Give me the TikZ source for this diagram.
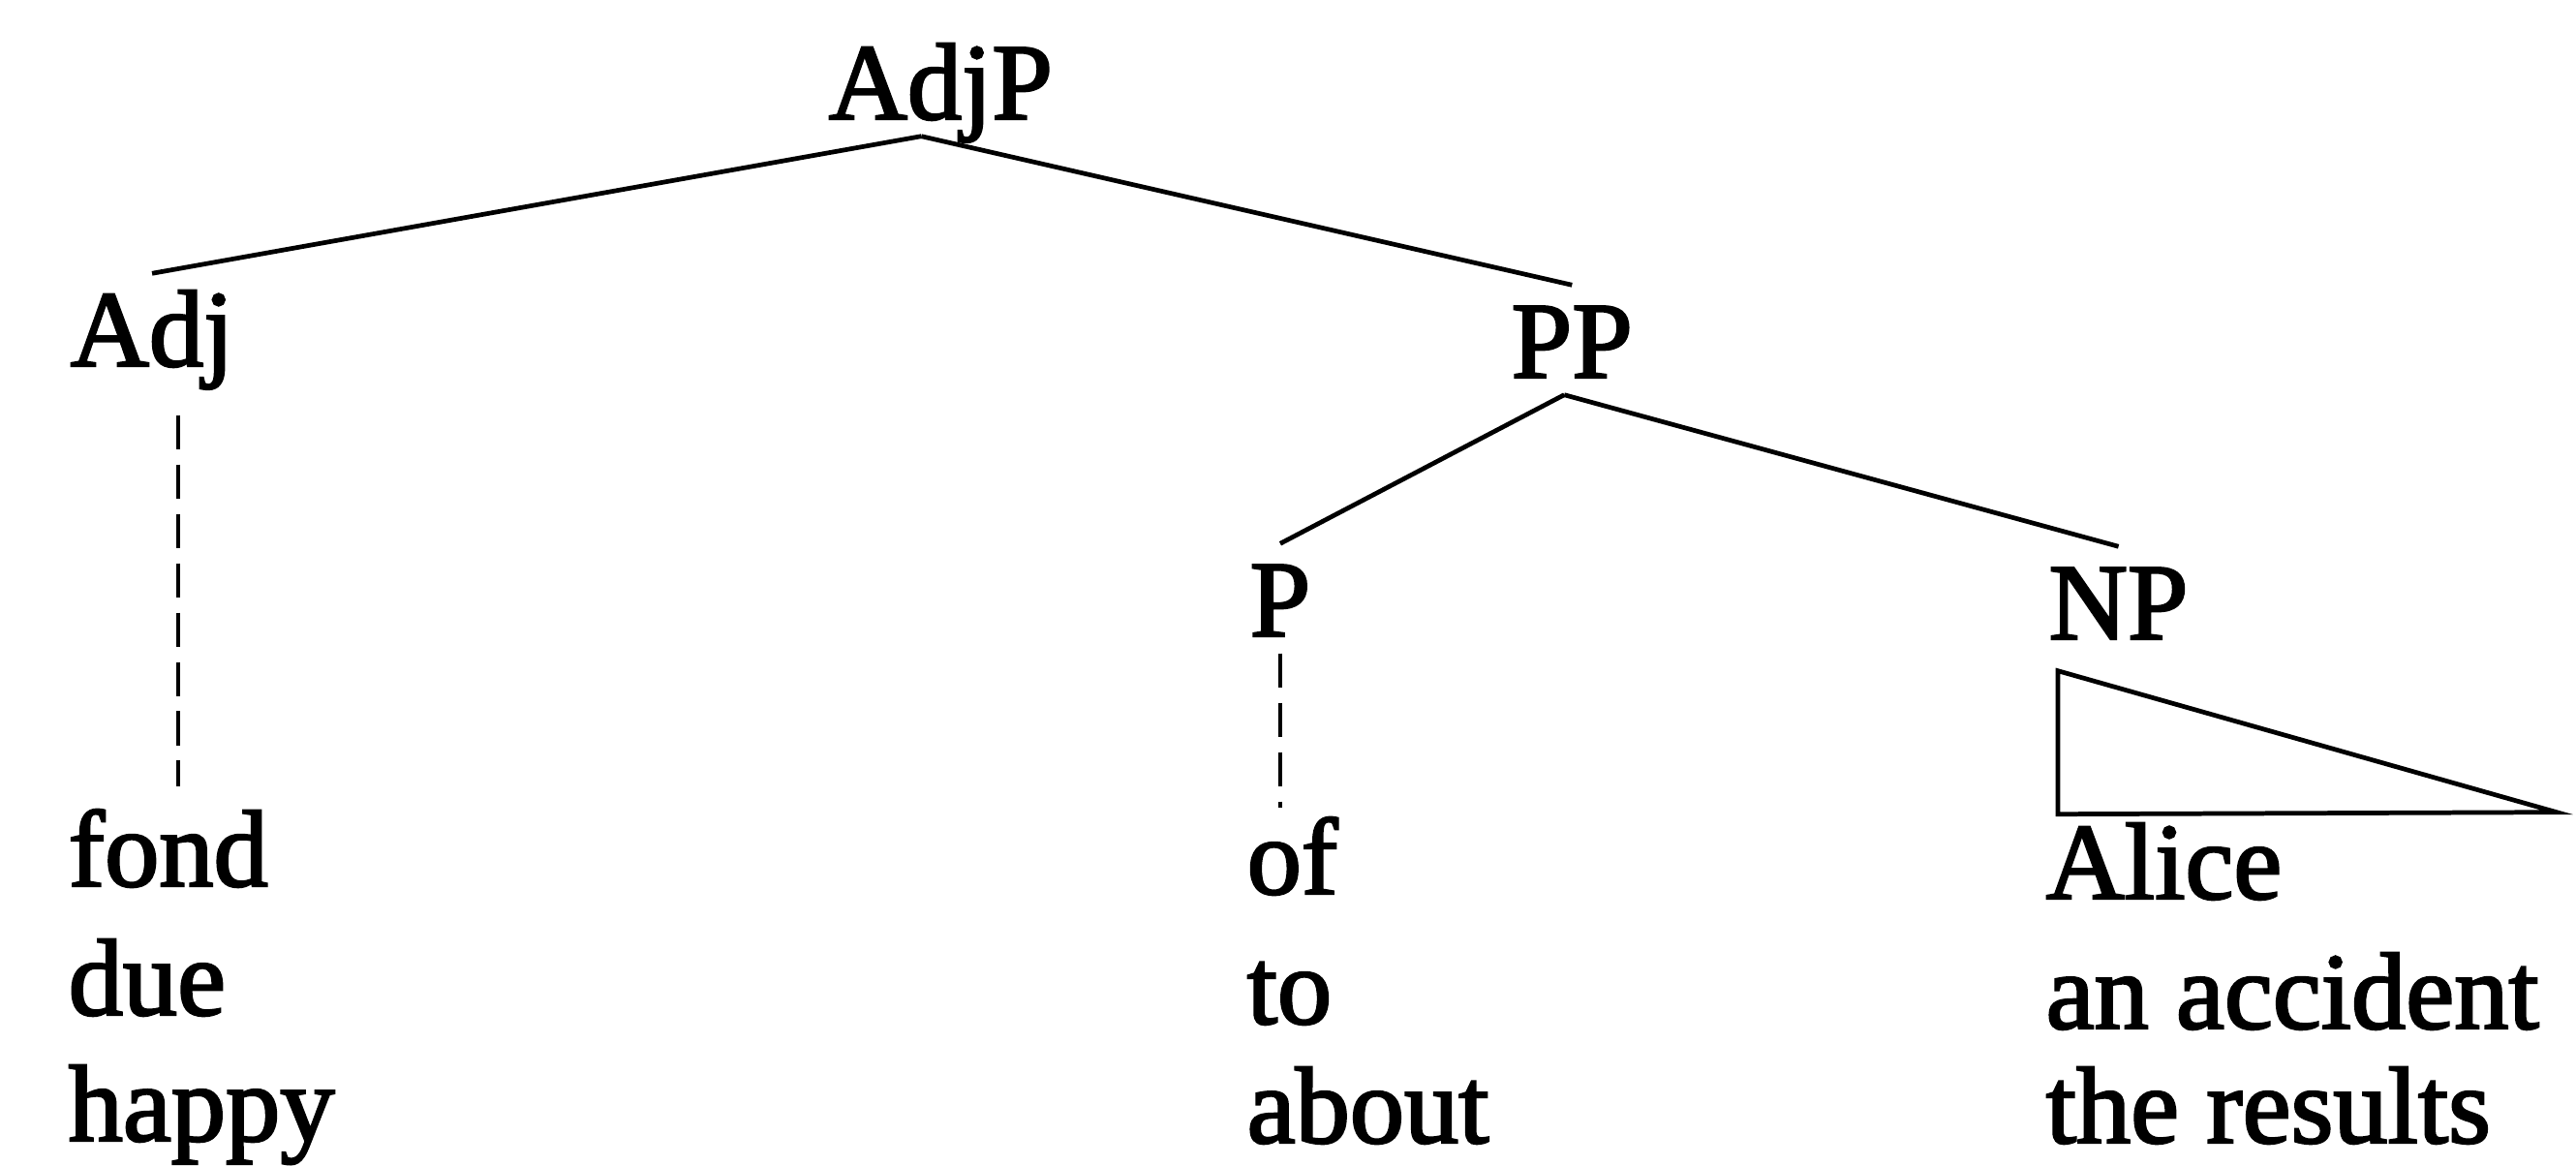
\documentclass[tikz,border=0pt]{standalone}
\usepackage{fontspec}
\setmainfont{Liberation Serif}[BoldFont=Liberation Serif,BoldFeatures={FakeBold=2.2}]
\usepackage{tikz}
\newcommand{\drawbranch}{\draw[line width=1.35pt]}
\newcommand{\drawdashed}{\draw[line width=1.05pt,dash pattern=on 10pt off 4.5pt]}
\begin{document}
\begin{tikzpicture}[cat/.style={anchor=base west,inner xsep=0pt,inner ysep=0.17cm,text height=0.78cm,text depth=0pt,font=\fontsize{32}{38}\selectfont\bfseries},
    word/.style={anchor=base west,inner sep=0pt,font=\fontsize{32}{38}\selectfont\bfseries}]
\useasboundingbox (0,0) rectangle (26.6,-12.04);
\node[cat] (adjp) at (8.55,-1.23) {AdjP};
\node[cat] (adj) at (0.72,-3.78) {Adj};
\node[cat] (pp) at (15.60,-3.90) {PP};
\node[cat] (p) at (12.90,-6.57) {P};
\node[cat] (np) at (21.15,-6.60) {NP};
\node[word] (fond) at (0.70,-9.15) {fond};
\node[word] (due) at (0.70,-10.48) {due};
\node[word] (happy) at (0.70,-11.78) {happy};
\node[word] (of) at (12.87,-9.23) {of};
\node[word] (to) at (12.87,-10.57) {to};
\node[word] (about) at (12.87,-11.80) {about};
\node[word] (alice) at (21.12,-9.28) {Alice};
\node[word] (accident) at (21.12,-10.62) {an accident};
\node[word] (results) at (21.12,-11.80) {the results};
\drawbranch ([xshift=-0.2cm]adjp.south) -- (adj.north);
\drawbranch ([xshift=-0.2cm]adjp.south) -- (pp.north);
\drawbranch ([xshift=-0.08cm]pp.south) -- (p.north);
\drawbranch ([xshift=-0.08cm]pp.south) -- (np.north);
\drawdashed[shorten <=0.33cm] ([xshift=0.1cm]fond.north |- adj.south) -- ([xshift=0.1cm,yshift=0.23cm]fond.north);
\drawdashed (p.south) -- ([yshift=0.09cm]p.south |- of.north);
\drawbranch ([xshift=0.1cm,yshift=-0.15cm]np.south west) -- ++(0,-1.48) -- ++(5.15,0.02) -- cycle;
\end{tikzpicture}
\end{document}
